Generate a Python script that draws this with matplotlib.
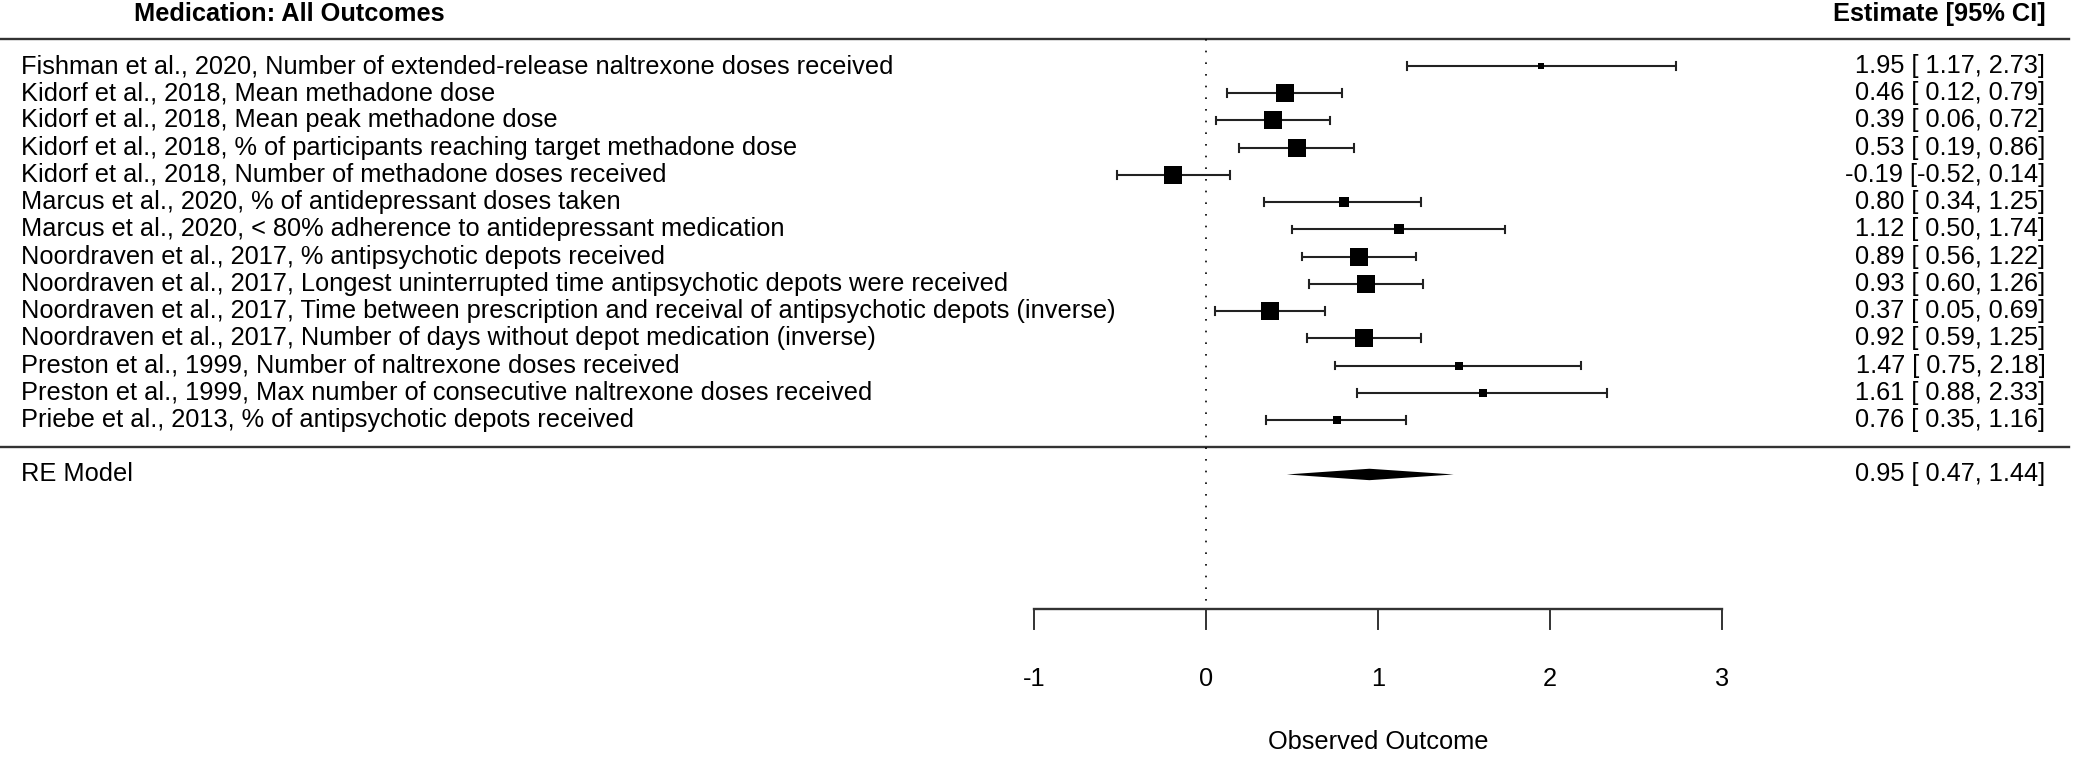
import matplotlib
matplotlib.use("Agg")
import matplotlib.pyplot as plt

plt.rcParams['font.family'] = ['Liberation Sans', 'DejaVu Sans']

studies = [
    "Fishman et al., 2020, Number of extended-release naltrexone doses received",
    "Kidorf et al., 2018, Mean methadone dose",
    "Kidorf et al., 2018, Mean peak methadone dose",
    "Kidorf et al., 2018, % of participants reaching target methadone dose",
    "Kidorf et al., 2018, Number of methadone doses received",
    "Marcus et al., 2020, % of antidepressant doses taken",
    "Marcus et al., 2020, < 80% adherence to antidepressant medication",
    "Noordraven et al., 2017, % antipsychotic depots received",
    "Noordraven et al., 2017, Longest uninterrupted time antipsychotic depots were received",
    "Noordraven et al., 2017, Time between prescription and receival of antipsychotic depots (inverse)",
    "Noordraven et al., 2017, Number of days without depot medication (inverse)",
    "Preston et al., 1999, Number of naltrexone doses received",
    "Preston et al., 1999, Max number of consecutive naltrexone doses received",
    "Priebe et al., 2013, % of antipsychotic depots received",
]
est = [1.95, 0.46, 0.39, 0.53, -0.19, 0.80, 1.12, 0.89, 0.93, 0.37, 0.92, 1.47, 1.61, 0.76]
ci_lo = [1.17, 0.12, 0.06, 0.19, -0.52, 0.34, 0.50, 0.56, 0.60, 0.05, 0.59, 0.75, 0.88, 0.35]
ci_hi = [2.73, 0.79, 0.72, 0.86, 0.14, 1.25, 1.74, 1.22, 1.26, 0.69, 1.25, 2.18, 2.33, 1.16]
# relative weights
weights = [0.12, 1.0, 1.0, 0.97, 0.97, 0.42, 0.38, 0.97, 0.97, 0.94, 0.94, 0.22, 0.26, 0.3]

re_est, re_lo, re_hi = 0.95, 0.47, 1.44
xticks = [-1, 0, 1, 2, 3]

W, H = 2100, 758
fig = plt.figure(figsize=(W / 100, H / 100), dpi=100)
ax = fig.add_axes([0, 0, 1, 1])
ax.axis('off')

# pixel -> data mapping: x0 at 1206px, 172 px per unit; row 1 at 420px, 27.23 px per row
px_unit = 172.0
row_px = 27.23
ax.set_xlim(-1206 / px_unit, (W - 1206) / px_unit)
ax.set_ylim(1 - (H - 420) / row_px, 1 + 420 / row_px)

k = len(studies)
rows = list(range(k, 0, -1))
fs = 18.3
x_left = -6.89
x_right = 4.88
x_line_end = (2069 - 1206) / px_unit
x_min = ax.get_xlim()[0]
y_axis = -5.94

# header
ax.text(-6.23, k + 1.9, "Medication: All Outcomes", fontsize=fs, fontweight='bold', ha='left', va='center')
ax.text(x_right, k + 1.9, "Estimate [95% CI]", fontsize=fs, fontweight='bold', ha='right', va='center')

# separator lines
ax.plot([x_min, x_line_end], [k + 1, k + 1], color='#333333', lw=1.7)
ax.plot([x_min, x_line_end], [0, 0], color='#333333', lw=1.7)

# reference line at 0
ax.plot([0, 0], [k + 1, y_axis], color='black', lw=1.2, linestyle=(0, (1, 6)))

cap = 0.14
for r, name, e, lo, hi, w in zip(rows, studies, est, ci_lo, ci_hi, weights):
    ax.text(x_left, r, name, fontsize=fs, ha='left', va='center')
    ax.text(x_right, r, f"{e:.2f} [{lo:5.2f}, {hi:.2f}]", fontsize=fs, ha='right', va='center')
    ax.plot([lo, hi], [r, r], color='#222222', lw=1.5, solid_capstyle='butt')
    ax.plot([lo, lo], [r - cap, r + cap], color='#222222', lw=1.5)
    ax.plot([hi, hi], [r - cap, r + cap], color='#222222', lw=1.5)
    side = 5 + 13 * w
    ax.plot([e], [r], marker='s', color='black', markersize=side * 0.72, markeredgewidth=0)

# RE model
ax.text(x_left, -1, "RE Model", fontsize=fs, ha='left', va='center')
ax.text(x_right, -1, f"{re_est:.2f} [{re_lo:5.2f}, {re_hi:.2f}]", fontsize=fs, ha='right', va='center')
dh = 0.21
ax.fill([re_lo, re_est, re_hi, re_est], [-1, -1 + dh, -1, -1 - dh], color='black', lw=0)

# x axis
ax.plot([xticks[0], xticks[-1]], [y_axis, y_axis], color='#333333', lw=1.7)
for t in xticks:
    ax.plot([t, t], [y_axis, y_axis - 0.73], color='#333333', lw=1.4)
    ax.text(t, -8.51, f"{t}", fontsize=fs, ha='center', va='center')
ax.text((xticks[0] + xticks[-1]) / 2, -10.83, "Observed Outcome", fontsize=fs, ha='center', va='center')

fig.savefig("out.png", dpi=100)
